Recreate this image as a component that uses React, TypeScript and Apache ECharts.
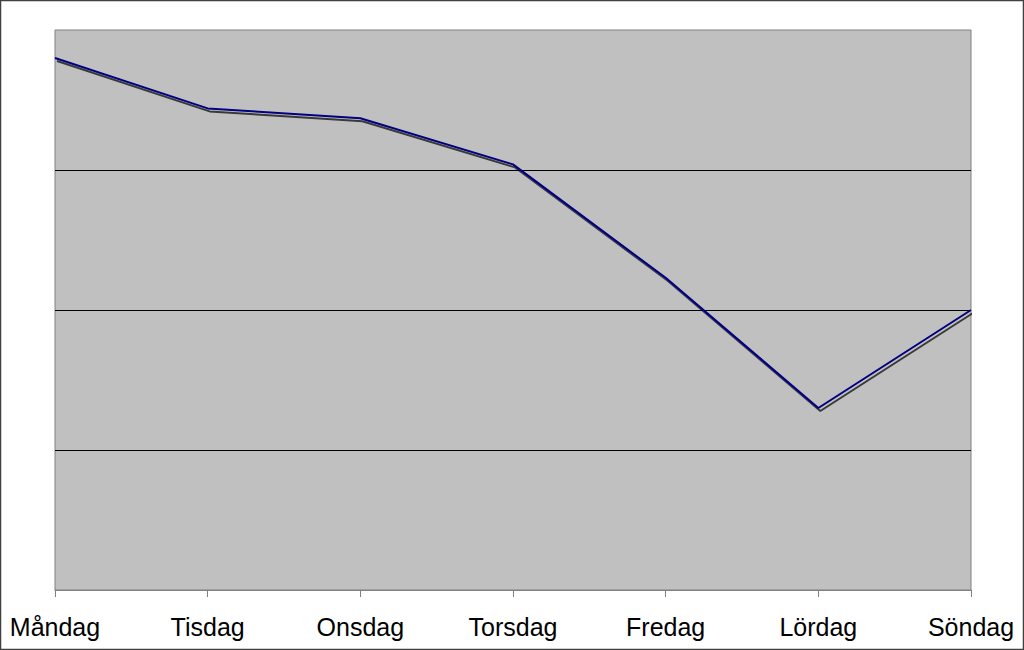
import React, { useEffect, useRef } from "react";
import * as echarts from "echarts";

const days = ["Måndag", "Tisdag", "Onsdag", "Torsdag", "Fredag", "Lördag", "Söndag"];
const values = [3.8, 3.44, 3.37, 3.04, 2.23, 1.3, 2.0];

export default function App() {
  const ref = useRef<HTMLDivElement>(null);
  useEffect(() => {
    const chart = echarts.init(ref.current!, null, { renderer: "svg" });
    chart.setOption({
      animation: false,
      backgroundColor: "#ffffff",
      textStyle: { fontFamily: "Liberation Sans, Arial, sans-serif" },
      graphic: [
        {
          type: "rect",
          shape: { x: 0.5, y: 0.5, width: 1023, height: 649 },
          style: { fill: "none", stroke: "#404040", lineWidth: 1.5 },
          silent: true,
        },
      ],
      grid: {
        left: 55,
        right: 53,
        top: 30,
        bottom: 60,
        show: true,
        backgroundColor: "#c0c0c0",
        borderColor: "#808080",
        borderWidth: 1,
      },
      xAxis: {
        type: "category",
        data: days,
        boundaryGap: false,
        axisLine: { lineStyle: { color: "#808080", width: 1 } },
        axisTick: { show: true, length: 7, lineStyle: { color: "#808080" } },
        axisLabel: { color: "#000", fontSize: 25, margin: 24 },
        splitLine: { show: false },
      },
      yAxis: {
        type: "value",
        min: 0,
        max: 4,
        interval: 1,
        axisLine: { show: false },
        axisTick: { show: false },
        axisLabel: { show: false },
        splitLine: {
          show: true,
          showMinLine: false,
          showMaxLine: false,
          lineStyle: { color: "#000", width: 1 },
        },
      },
      series: [
        {
          type: "line",
          data: values,
          symbol: "none",
          lineStyle: {
            color: "#000080",
            width: 2,
            shadowColor: "rgba(0,0,0,0.7)",
            shadowOffsetX: 2,
            shadowOffsetY: 3,
            shadowBlur: 0,
          },
        },
      ],
    });
    return () => chart.dispose();
  }, []);
  return (
    <div
      ref={ref}
      style={{ position: "fixed", left: 0, top: 0, width: 1024, height: 650 }}
    />
  );
}
